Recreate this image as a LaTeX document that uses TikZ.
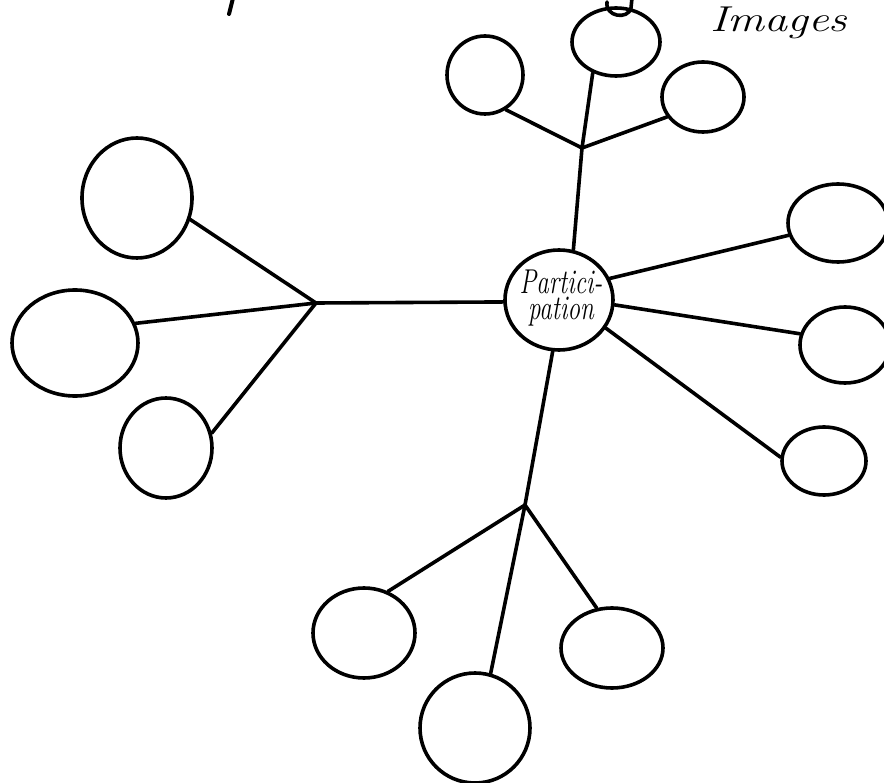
\documentclass[tikz,border=0pt]{standalone}
\usepackage{fontspec}
\usetikzlibrary{shapes.geometric}
\newcommand\myPartFont{\fontsize{25}{19}\selectfont\itshape\lineskiplimit=-30pt\relax}
\tikzset{
  pen/.style={line width=3.6pt, line cap=round, line join=round, black},
  bubble/.style={ellipse, draw, pen, inner sep=0pt},
}
\begin{document}
\begin{tikzpicture}[x=1pt,y=-1pt]
\useasboundingbox (0,0) rectangle (884,783);
% centre
\node[bubble, minimum width=108pt, minimum height=100pt] (C) at (559,300) {};
\begin{scope}[shift={(561,298)}, yscale=1.38]
\node[transform shape, font=\myPartFont, align=center, inner sep=0pt] (Ct) at (0,0) {Partici-\\pation};
\end{scope}
% top group
\node[bubble, minimum width=76pt, minimum height=78pt] (tl) at (485,75) {};
\node[bubble, minimum width=88pt, minimum height=68pt] (t) at (616,42) {};
\node[bubble, minimum width=82pt, minimum height=70pt] (tr) at (703,97) {};
\coordinate (JT) at (582,148);
% right group
\node[bubble, minimum width=100pt, minimum height=78pt] (ur) at (838,223) {};
\node[bubble, minimum width=90pt, minimum height=76pt] (mr) at (845,345) {};
\node[bubble, minimum width=84pt, minimum height=68pt] (lr) at (824,461) {};
% left group
\node[bubble, minimum width=110pt, minimum height=120pt] (ul) at (137,198) {};
\node[bubble, minimum width=126pt, minimum height=106pt] (l) at (75,343) {};
\node[bubble, minimum width=92pt, minimum height=100pt] (ll) at (166,448) {};
\coordinate (JL) at (316,303);
% bottom group
\node[bubble, minimum width=102pt, minimum height=90pt] (bl) at (364,633) {};
\node[bubble, minimum width=110pt, minimum height=110pt] (b) at (475,728) {};
\node[bubble, minimum width=102pt, minimum height=80pt] (br) at (612,648) {};
\coordinate (JB) at (525,505);
% connectors
\draw[pen] (t.-127) -- (JT) -- (C.74);
\draw[pen] (tl.-59) -- (JT) -- (tr.-151);
\draw[pen] (C.23) -- (ur.-166);
\draw[pen] (C.-5) -- (mr.166);
\draw[pen] (C.-31) -- (lr.175);
\draw[pen] (C.182) -- (JL);
\draw[pen] (ul.-22) -- (JL);
\draw[pen] (l.18) -- (JL);
\draw[pen] (ll.18) -- (JL);
\draw[pen] (C.-97) -- (JB);
\draw[pen] (bl.60) -- (JB);
\draw[pen] (b.74) -- (JB);
\draw[pen] (br.111) -- (JB);
% title
\node[anchor=base west, font=\fontsize{36}{36}\selectfont\itshape, inner sep=0pt] (img) at (710,32) {\scalebox{1.28}[1]{Images}};
% cropped fragments at top edge
\draw[pen, line width=4pt] (233,-2) -- (229,14);
\draw[pen] (607,2) .. controls (605,17) and (628,20) .. (631,8) -- (632,-2);
\end{tikzpicture}
\end{document}
